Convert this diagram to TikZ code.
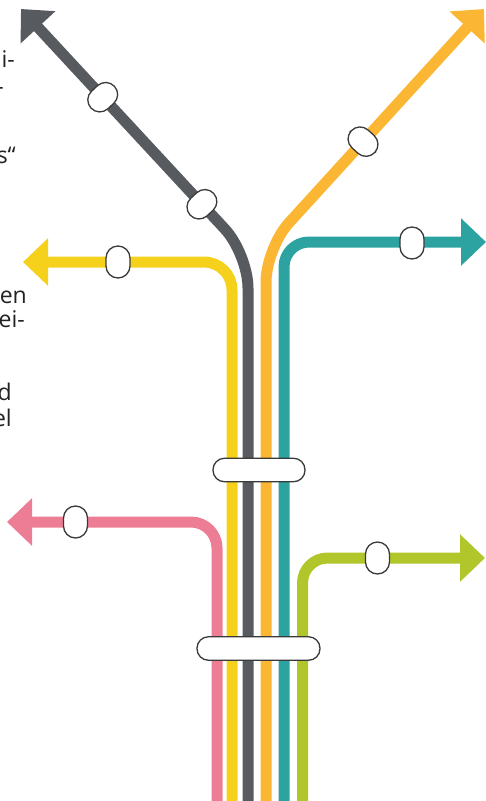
\documentclass[tikz,border=0pt]{standalone}
\usepackage{fontspec}
\setmainfont{Open Sans}
\usetikzlibrary{arrows.meta,calc}
\definecolor{lgray}{HTML}{575B5F}
\definecolor{lyellow}{HTML}{F6D11B}
\definecolor{lorange}{HTML}{FBB733}
\definecolor{lteal}{HTML}{2CA3A1}
\definecolor{lpink}{HTML}{EC7D95}
\definecolor{lgreen}{HTML}{B0C62B}
\definecolor{stopc}{HTML}{3A3A3A}
\definecolor{textc}{HTML}{222222}
\begin{document}
\begin{tikzpicture}[x=1pt,y=-1pt,
  metro/.style={line width=11pt, -{Triangle[length=25pt,width=46pt]}},
  stop/.style={draw=stopc, fill=white, line width=1.3pt, rectangle, rounded corners=12pt, minimum width=24pt, minimum height=32pt, inner sep=0pt},
  bar/.style={draw=stopc, fill=white, line width=1.3pt, rectangle, rounded corners=11.5pt, minimum height=23.5pt, inner sep=0pt},
  frag/.style={anchor=base east, inner sep=0pt, font=\fontsize{23}{27}\selectfont, text=textc}]
\useasboundingbox (0,0) rectangle (486,801);
\clip (0,0) rectangle (486,801);

% text fragments (cut at the left edge, as in the reference)
\node[frag] (t1) at (15,67) {i-};
\node[frag] (t2) at (4,94) {-};
\node[frag] (t3) at (16,163) {s“};
\node[frag] (t4) at (27,303) {en};
\node[frag] (t5) at (25,327) {ei-};
\node[frag] (t6) at (12,400) {d};
\node[frag] (t7) at (12,426) {el};

% line coordinates
\coordinate (gB) at (248,810); \coordinate (gC) at (248,254); \coordinate (gT) at (21,9);
\coordinate (oB) at (266,810); \coordinate (oC) at (266,248); \coordinate (oT) at (484,9);
\coordinate (yB) at (232,810); \coordinate (yC) at (232,262); \coordinate (yT) at (23,262);
\coordinate (tB) at (284,810); \coordinate (tC) at (284,242); \coordinate (tT) at (486,242);
\coordinate (pB) at (217,810); \coordinate (pC) at (217,522); \coordinate (pT) at (7,522);
\coordinate (nB) at (302.5,810); \coordinate (nC) at (302.5,558); \coordinate (nT) at (485,558);

\draw[metro, lpink, rounded corners=26pt] (pB) -- (pC) -- (pT);
\draw[metro, lyellow, rounded corners=28pt] (yB) -- (yC) -- (yT);
\draw[metro, lgray, rounded corners=34pt] (gB) -- (gC) -- (gT);
\draw[metro, lorange, rounded corners=34pt] (oB) -- (oC) -- (oT);
\draw[metro, lteal, rounded corners=25pt] (tB) -- (tC) -- (tT);
\draw[metro, lgreen, rounded corners=25pt] (nB) -- (nC) -- (nT);

% stops
\node[stop, rotate=132.8] (g1) at ($(gT)!0.36!(gC)$) {};
\node[stop, rotate=132.8] (g2) at ($(gT)!0.797!(gC)$) {};
\node[stop, rotate=47.6] (o1) at ($(oT)!0.555!(oC)$) {};
\node[stop] (y1) at (118,262) {};
\node[stop] (c1) at (412,243) {};
\node[stop] (p1) at (75.5,522) {};
\node[stop] (n1) at (377.5,558) {};

% interchange bars
\node[bar, minimum width=92pt] (b1) at (259,470) {};
\node[bar, minimum width=123pt] (b2) at (258.5,648.5) {};
\end{tikzpicture}
\end{document}
